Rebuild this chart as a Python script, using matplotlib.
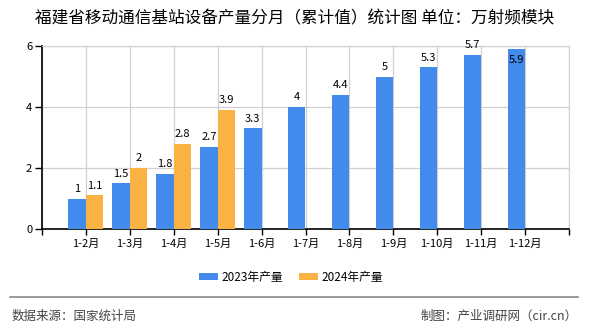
import numpy as np
import matplotlib
matplotlib.use("Agg")
import matplotlib.pyplot as plt

plt.rcParams["font.family"] = ["Noto Sans CJK SC", "DejaVu Sans"]

months = ["1-2月", "1-3月", "1-4月", "1-5月", "1-6月", "1-7月",
          "1-8月", "1-9月", "1-10月", "1-11月", "1-12月"]
output_2023 = [1, 1.5, 1.8, 2.7, 3.3, 4, 4.4, 5, 5.3, 5.7, 5.9]
output_2024 = [1.1, 2, 2.8, 3.9]

title = "福建省移动通信基站设备产量分月（累计值）统计图 单位：万射频模块"
blue = "#428bec"
orange = "#fbb244"

fig = plt.figure(figsize=(5.9, 3.3), dpi=100)
ax = fig.add_axes([42 / 590, 1 - 229 / 330, 527 / 590, 183 / 330])

x = np.arange(len(months))
w = 0.4
b1 = ax.bar(x[:len(output_2023)] - w / 2, output_2023, w, color=blue, label="2023年产量", zorder=3)
b2 = ax.bar(x[:len(output_2024)] + w / 2, output_2024, w, color=orange, label="2024年产量", zorder=3)

ax.set_xlim(-1, len(months))
ax.set_ylim(0, 6)
ax.set_yticks([0, 2, 4, 6])
ax.set_xticks(np.arange(-1, len(months) + 1))
ax.set_xticklabels([""] + months + [""], fontsize=8)
ax.tick_params(axis="y", labelsize=8, length=5, width=1, pad=2)
ax.tick_params(axis="x", length=4, width=1, pad=3)
ax.grid(True, color="#d0d0d0", lw=0.9, zorder=0)
for s in ["top", "right"]:
    ax.spines[s].set_color("#d0d0d0")
for s in ["left", "bottom"]:
    ax.spines[s].set_color("black")
    ax.spines[s].set_linewidth(1.2)

# value labels; the tallest one sits inside the bar so it stays in the frame
for bars, vals in [(b1, output_2023), (b2, output_2024)]:
    for r, v in zip(bars, vals):
        cx = r.get_x() + r.get_width() / 2
        if v > 5.8:
            ax.annotate(f"{v:g}", (cx, v), xytext=(0, -8), textcoords="offset points",
                        ha="center", va="center", fontsize=8, zorder=4)
        else:
            ax.annotate(f"{v:g}", (cx, v), xytext=(0, 7), textcoords="offset points",
                        ha="center", va="center", fontsize=8, zorder=4)

fig.text(0.5, 1 - 19 / 330, title, ha="center", va="center", fontsize=12)

fig.legend(handles=[b1, b2], loc="center", bbox_to_anchor=(291 / 590, 1 - 277 / 330),
           ncol=2, frameon=False, fontsize=8.5, handlelength=1.6, handleheight=0.6,
           handletextpad=0.3, columnspacing=1.3)

fig.add_artist(plt.Line2D([10 / 590, 578 / 590], [1 - 297 / 330] * 2, color="#888888", lw=1.2))
fig.text(12 / 590, 1 - 316 / 330, "数据来源：国家统计局", ha="left", va="center", fontsize=9, color="#444444")
fig.text(578 / 590, 1 - 316 / 330, "制图：产业调研网（cir.cn）", ha="right", va="center", fontsize=9, color="#444444")

fig.savefig("out.png", dpi=100)
